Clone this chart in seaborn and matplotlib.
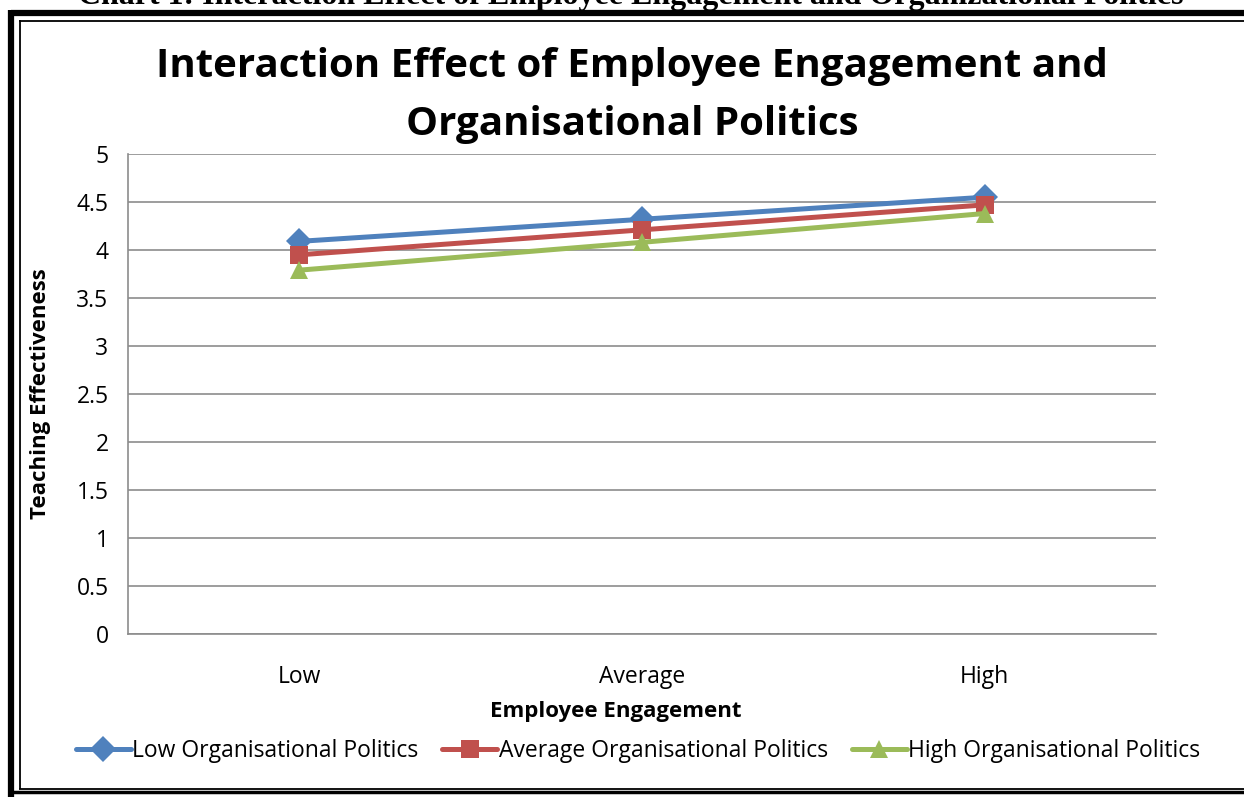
import matplotlib
matplotlib.use("Agg")
import matplotlib.pyplot as plt
from matplotlib.lines import Line2D
import seaborn as sns
import pandas as pd

categories = ["Low", "Average", "High"]
low_politics = [4.09, 4.32, 4.55]
avg_politics = [3.95, 4.21, 4.47]
high_politics = [3.79, 4.08, 4.38]
series_names = ["Low Organisational Politics", "Average Organisational Politics", "High Organisational Politics"]
y_ticks = [0, 0.5, 1, 1.5, 2, 2.5, 3, 3.5, 4, 4.5, 5]

rows = []
for name, vals in zip(series_names, [low_politics, avg_politics, high_politics]):
    for c, v in zip(categories, vals):
        rows.append({"Employee Engagement": c, "Teaching Effectiveness": v, "Series": name})
df = pd.DataFrame(rows)

sns.set_theme(style="white")
plt.rcParams["font.family"] = ["Open Sans", "DejaVu Sans"]
plt.rcParams["text.color"] = "black"
plt.rcParams["axes.labelcolor"] = "black"
plt.rcParams["xtick.color"] = "black"
plt.rcParams["ytick.color"] = "black"

W, H = 1244, 797
fig = plt.figure(figsize=(W / 100, H / 100), dpi=100)
ax = fig.add_axes([128 / W, 1 - 634 / H, (1156 - 128) / W, (634 - 154) / H])

palette = {series_names[0]: "#4F81BD", series_names[1]: "#C0504D", series_names[2]: "#9BBB59"}
markers = {series_names[0]: "D", series_names[1]: "s", series_names[2]: "^"}
sns.lineplot(data=df, x="Employee Engagement", y="Teaching Effectiveness", hue="Series",
             style="Series", markers=markers, dashes=False, palette=palette,
             linewidth=3.6, markersize=13, markeredgewidth=0, ax=ax, sort=False, legend=True)

ax.set_xlim(-0.5, 2.5)
ax.set_ylim(0, 5)
ax.set_yticks(y_ticks)
ax.set_yticklabels([f"{t:g}" for t in y_ticks])
ax.yaxis.grid(True, color="#8c8c8c", linewidth=1.2)
ax.xaxis.grid(False)
ax.set_axisbelow(True)
for s in ["top", "right"]:
    ax.spines[s].set_visible(False)
ax.spines["left"].set_color("#8c8c8c")
ax.spines["bottom"].set_color("#8c8c8c")
ax.spines["left"].set_linewidth(1.2)
ax.spines["bottom"].set_linewidth(1.2)
ax.set_xticks([0, 1, 2])
ax.set_xticklabels(categories)
ax.set_xticks([-0.5, 0.5, 1.5, 2.5], minor=True)
ax.tick_params(axis="x", which="major", length=0, pad=22, labelsize=16.5, labelcolor="black")
ax.tick_params(axis="x", which="minor", length=6, width=1.2, color="#8c8c8c", direction="out")
ax.tick_params(axis="y", length=6, width=1.2, color="#8c8c8c", direction="out", labelsize=16.5,
               pad=8, labelcolor="black")
ax.set_xlabel("Employee Engagement", fontsize=16, fontweight="bold", color="black")
ax.xaxis.set_label_coords((616 - 128) / (1156 - 128), -(701 - 634) / (634 - 154))
ax.set_ylabel("Teaching Effectiveness", fontsize=16, fontweight="bold", color="black")
ax.yaxis.set_label_coords(-(128 - 51) / (1156 - 128), 0.5)

ax.legend(loc="center", bbox_to_anchor=(638 / W, 1 - 751 / H), bbox_transform=fig.transFigure,
          ncol=3, frameon=False, fontsize=16.5, handlelength=2.4, handletextpad=0.05,
          columnspacing=1.05, markerscale=1.0)

fig.text(632 / W, 1 - 66 / H, "Interaction Effect of Employee Engagement and",
         ha="center", va="center", fontsize=29, fontweight="bold", color="black")
fig.text(632 / W, 1 - 125 / H, "Organisational Politics",
         ha="center", va="center", fontsize=29, fontweight="bold", color="black")

fig.text(631 / W, 1 - 4 / H, "Chart 1: Interaction Effect of Employee Engagement and Organizational Politics",
         ha="center", va="baseline", fontsize=23, fontweight="bold", family="Liberation Serif",
         color="black")

def line(x0, y0, x1, y1, lw):
    fig.add_artist(Line2D([x0 / W, x1 / W], [1 - y0 / H, 1 - y1 / H], color="black",
                          linewidth=lw, transform=fig.transFigure, solid_capstyle="butt"))

# outer thick frame
line(11, 12.5, 1250, 12.5, 4.5)
line(11, 10, 11, 797, 4.5)
line(8, 792, 1250, 792, 2.5)
# inner thin frame
line(19, 20.5, 1250, 20.5, 1.3)
line(19.5, 20, 19.5, 789, 1.3)
line(19, 788.5, 1250, 788.5, 1.3)

fig.savefig("out.png", dpi=100)
